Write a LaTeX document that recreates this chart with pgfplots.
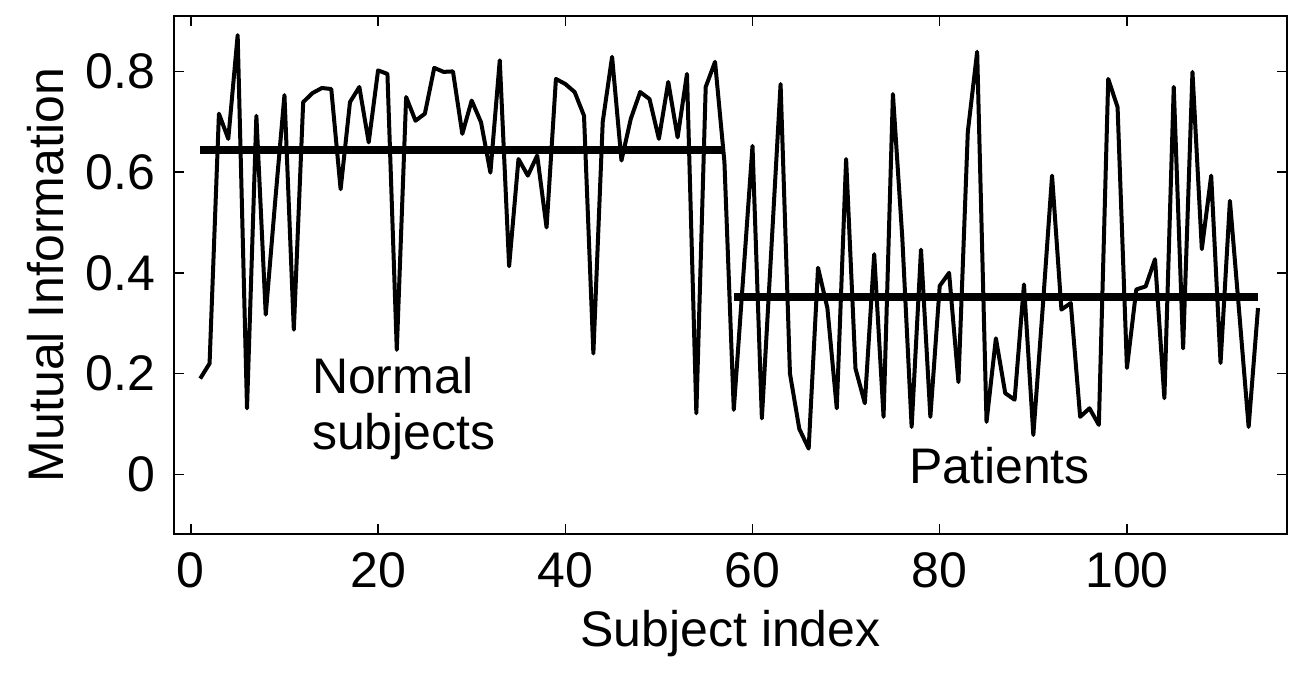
\documentclass[border=0pt]{standalone}
\usepackage{pgfplots}
\pgfplotsset{compat=1.18}
\usepackage{pgfplotstable}
\usepackage{fontspec}
\setmainfont{Liberation Sans}
\pgfplotstableread{
x y
1 0.19
2 0.22
3 0.716
4 0.666
5 0.872
6 0.131
7 0.712
8 0.317
9 0.54
10 0.753
11 0.287
12 0.739
13 0.757
14 0.767
15 0.765
16 0.566
17 0.739
18 0.769
19 0.659
20 0.802
21 0.795
22 0.247
23 0.749
24 0.702
25 0.716
26 0.807
27 0.799
28 0.80
29 0.676
30 0.742
31 0.699
32 0.599
33 0.822
34 0.413
35 0.626
36 0.593
37 0.633
38 0.49
39 0.785
40 0.775
41 0.759
42 0.712
43 0.24
44 0.70
45 0.829
46 0.623
47 0.706
48 0.759
49 0.745
50 0.666
51 0.779
52 0.669
53 0.795
54 0.121
55 0.769
56 0.819
57 0.62
58 0.128
59 0.39
60 0.652
61 0.111
62 0.443
63 0.775
64 0.2
65 0.09
66 0.051
67 0.41
68 0.33
69 0.131
70 0.626
71 0.21
72 0.141
73 0.437
74 0.114
75 0.755
76 0.47
77 0.094
78 0.446
79 0.114
80 0.374
81 0.40
82 0.183
83 0.68
84 0.839
85 0.104
86 0.27
87 0.161
88 0.148
89 0.377
90 0.078
91 0.33
92 0.593
93 0.327
94 0.34
95 0.114
96 0.131
97 0.098
98 0.785
99 0.729
100 0.211
101 0.367
102 0.373
103 0.427
104 0.151
105 0.769
106 0.25
107 0.799
108 0.447
109 0.593
110 0.221
111 0.543
112 0.32
113 0.094
114 0.33
}\mi
\pgfplotstableread{
x y
1 0.643
57 0.643
}\normalmean
\pgfplotstableread{
x y
58 0.352
114 0.352
}\patientmean
\begin{document}
\begin{tikzpicture}
\begin{axis}[
  name=ax,
  scale only axis,
  width=445.2pt, height=207.2pt,
  xmin=-1.8, xmax=117.1,
  ymin=-0.1186, ymax=0.91,
  xtick={0,20,40,60,80,100},
  ytick={0,0.2,0.4,0.6,0.8},
  tick align=inside,
  major tick length=4pt,
  tick style={black, line width=0.6pt},
  axis line style={black, line width=0.8pt},
  /pgf/number format/assume math mode=true,
  ticklabel style={font=\fontsize{20}{24}\selectfont},
  label style={font=\fontsize{20}{24}\selectfont},
  xlabel={Subject index},
  ylabel={Mutual Information},
  xticklabel style={yshift=-4pt},
  yticklabel style={xshift=-4pt},
  xlabel style={yshift=-2pt},
  ylabel style={yshift=2pt},
  clip=false,
]
\addplot[black, line width=1.6pt, line join=round] table[x=x, y=y] {\mi};
\addplot[black, line width=3.2pt] table[x=x, y=y] {\normalmean};
\addplot[black, line width=3.2pt] table[x=x, y=y] {\patientmean};
\node[anchor=west, align=left, font=\fontsize{20}{22.5}\selectfont] at (axis cs:12.0,0.13) {Normal\\subjects};
\node[anchor=west, font=\fontsize{20}{24}\selectfont] at (axis cs:75.8,0.018) {Patients};
\end{axis}
\path ([xshift=-69.6pt,yshift=-57.2pt]ax.south west) rectangle ([xshift=1.2pt,yshift=6.4pt]ax.north east);
\end{tikzpicture}
\end{document}
